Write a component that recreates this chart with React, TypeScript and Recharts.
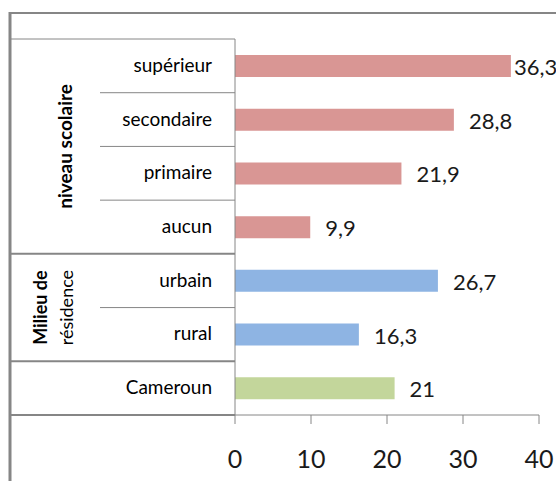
import React from 'react';
import { BarChart, Bar, XAxis, YAxis, Cell, LabelList } from 'recharts';

const categories = ['supérieur', 'secondaire', 'primaire', 'aucun', 'urbain', 'rural', 'Cameroun'];
const values = [36.3, 28.8, 21.9, 9.9, 26.7, 16.3, 21];
const groupOf = ['niveau', 'niveau', 'niveau', 'niveau', 'milieu', 'milieu', 'total'];
const xTicks = [0, 10, 20, 30, 40];

const COLORS: Record<string, string> = {
  niveau: '#D99694',
  milieu: '#8EB4E3',
  total: '#C3D69B',
};

const W = 556;
const H = 481;
const TOP = 39;
const BOTTOM = 66;
const AXIS_X = 235;
const RIGHT = 17;
const LINE = '#868686';
const FONT = 'Lato, "Open Sans", sans-serif';
const BAND = (H - TOP - BOTTOM) / categories.length;

const data = categories.map((name, i) => ({ name, value: values[i], group: groupOf[i] }));

const CategoryTick = (props: any) => {
  const { y, payload } = props;
  const idx = categories.indexOf(payload.value);
  const bottom = y + BAND / 2;
  // full-width separator after each group, short one inside a group
  const groupEnd = idx === categories.length - 1 || groupOf[idx] !== groupOf[idx + 1];
  return (
    <g>
      {idx === 0 && (
        <g>
          <line x1={10} y1={13} x2={W} y2={13} stroke={LINE} strokeWidth={2} />
          <line x1={10} y1={12} x2={10} y2={H} stroke={LINE} strokeWidth={3} />
          <line x1={10} y1={y - BAND / 2} x2={AXIS_X} y2={y - BAND / 2} stroke={LINE} strokeWidth={1} />
          <text
            transform={`translate(72, ${y + BAND * 1.5}) rotate(-90)`}
            textAnchor="middle"
            fontFamily={FONT}
            fontWeight="bold"
            fontSize={19}
            fill="#000"
          >
            niveau scolaire
          </text>
        </g>
      )}
      {idx === 4 && (
        <g>
          <text
            transform={`translate(47, ${y + BAND / 2}) rotate(-90)`}
            textAnchor="middle"
            fontFamily={FONT}
            fontWeight="bold"
            fontSize={18}
            fill="#000"
          >
            Milieu de
          </text>
          <text
            transform={`translate(73, ${y + BAND / 2}) rotate(-90)`}
            textAnchor="middle"
            fontFamily={FONT}
            fontSize={18}
            fill="#000"
          >
            résidence
          </text>
        </g>
      )}
      <line
        x1={groupEnd ? 10 : 100}
        y1={bottom}
        x2={AXIS_X}
        y2={bottom}
        stroke={LINE}
        strokeWidth={groupEnd ? 2 : 1}
      />
      <text x={212} y={y + 6} textAnchor="end" fontFamily={FONT} fontSize={19} fill="#000">
        {payload.value}
      </text>
    </g>
  );
};

const ValueTick = (props: any) => {
  const { x, y, payload } = props;
  return (
    <text x={x} y={y} dy={42} textAnchor="middle" fontFamily={FONT} fontSize={25} fill="#1a1a1a">
      {payload.value}
    </text>
  );
};

const ValueLabel = (props: any) => {
  const { x, y, width, height, value } = props;
  const lx = Math.min(x + width + 15, 514);
  return (
    <text x={lx} y={y + height / 2 + 9} fontFamily={FONT} fontSize={22} fill="#1a1a1a">
      {String(value).replace('.', ',')}
    </text>
  );
};

export default function App() {
  return (
    <div style={{ position: 'absolute', left: 0, top: 0, width: W, height: H, background: '#fff' }}>
      <BarChart
        width={W}
        height={H}
        data={data}
        layout="vertical"
        margin={{ top: TOP, right: RIGHT, bottom: 0, left: 0 }}
        barCategoryGap={0}
      >
        <XAxis
          type="number"
          domain={[0, 40]}
          ticks={xTicks}
          height={BOTTOM}
          tickSize={9}
          stroke={LINE}
          tickLine={{ stroke: LINE }}
          tick={<ValueTick />}
          interval={0}
        />
        <YAxis
          type="category"
          dataKey="name"
          width={AXIS_X}
          stroke={LINE}
          tickLine={false}
          tick={<CategoryTick />}
          interval={0}
        />
        <Bar dataKey="value" barSize={22} isAnimationActive={false}>
          {data.map((d, i) => (
            <Cell key={`cell-${i}`} fill={COLORS[d.group]} />
          ))}
          <LabelList dataKey="value" content={<ValueLabel />} />
        </Bar>
      </BarChart>
    </div>
  );
}
